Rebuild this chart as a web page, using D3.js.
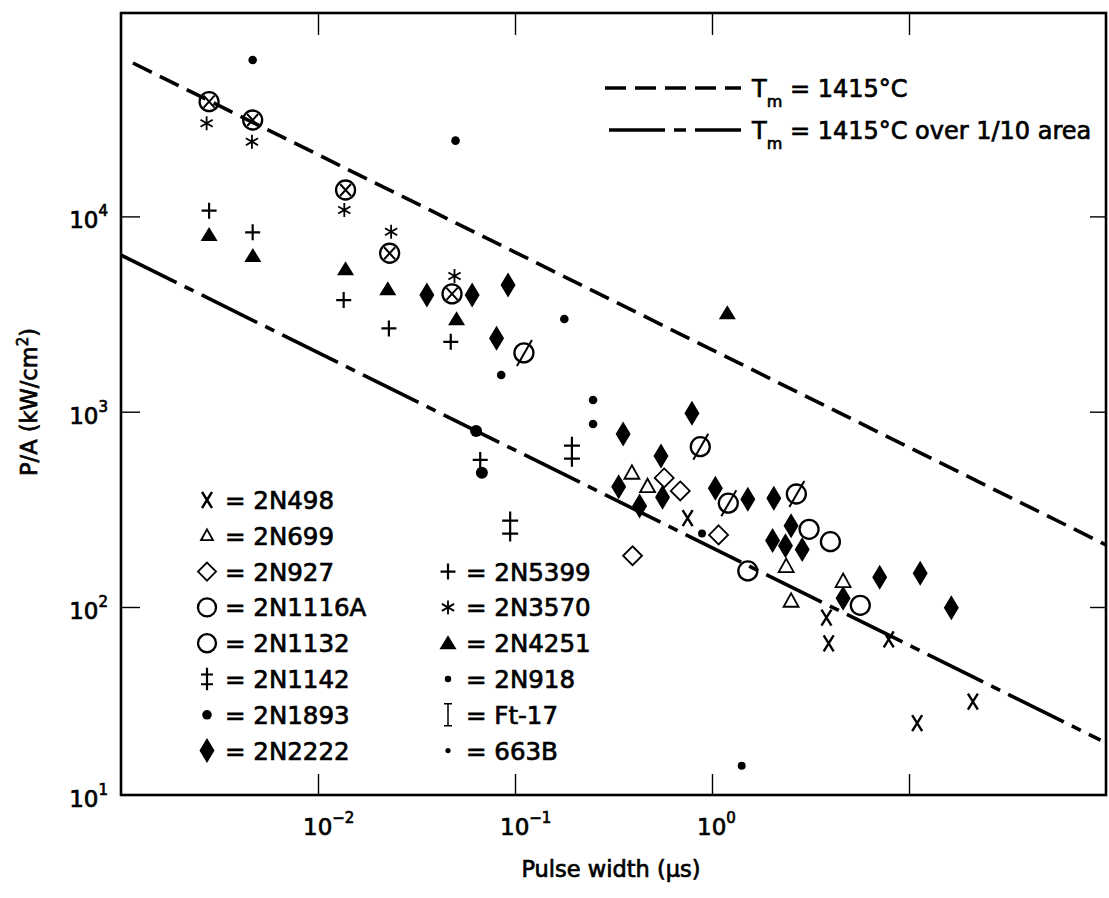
<!DOCTYPE html>
<html>
<head>
<meta charset="utf-8">
<script src="https://cdnjs.cloudflare.com/ajax/libs/d3/7.8.5/d3.min.js"></script>
<style>
  body { margin: 0; background: #fff; }
  svg { display: block; }
  text { font-family: "DejaVu Sans", sans-serif; fill: #000; stroke: #000; stroke-width: 0.7px; }
</style>
</head>
<body>
<svg id="chart" width="1109" height="898"></svg>
<script>
// ---------------- data (pulse width in µs, P/A in kW/cm²) ----------------
const d2N498   = [[0.752,285],[3.81,87.7],[3.91,64.1],[7.89,67.3],[21.1,31.4],[11.0,24.1]];
const d2N699   = [[0.392,484],[0.471,413],[2.38,161],[2.52,107],[4.63,135]];
const d2N927   = [[0.572,458],[0.690,393],[1.08,234],[0.395,183]];
const d2N1116A = [[1.52,153],[3.11,250],[3.99,216],[5.66,102]];
const d2N1132  = [[0.111,2000],[0.872,662],[1.21,340],[2.68,379]];
const d2N1142  = [[0.1945,624],[0.0945,258]];
const d2N1893  = [[0.0635,796],[0.0679,487]];
const d2N2222  = [[0.0357,3960],[0.0606,3960],[0.0922,4450],[0.0806,2380],[0.791,981],[0.354,769],
                  [0.551,593],[0.336,413],[0.561,365],[0.429,329],[1.04,405],[1.52,356],[2.06,360],
                  [2.52,261],[2.03,219],[2.36,206],[2.87,197],[4.63,111],[7.10,142],[11.4,149],[16.4,99]];
const d2N5399  = [[0.0028,10700],[0.00466,8290],[0.0135,3730],[0.0229,2670],[0.0472,2280],[0.0666,566]];
const d2N3570  = [[0.00272,29970],[0.00462,24130],[0.0136,10790],[0.0235,8350],[0.0493,4950]];
const d2N4251  = [[0.0028,8030],[0.00467,6270],[0.0138,5360],[0.0226,4230],[0.0505,2975],[1.196,3190]];
const d2N918   = [[0.00466,63200],[0.0499,24420],[0.178,2982],[0.0851,1541],[0.249,1148],[0.249,865]];
const dFt17    = [[0.0028,38660],[0.00466,31160],[0.0138,13650],[0.0231,6475],[0.0479,4010]];
const d663B    = [[0.890,238],[1.415,14.3]];

// reference lines (two end points)
const tmLineT    = [0.00115, 100];
const tmLinePA   = [61000, 208];
const tm10LineT  = [0.001, 93.8];
const tm10LinePA = [6340, 19.6];

// ticks
const xTickValues = [1e-2, 1e-1, 1e0, 1e1];
const xLabelValues = [1e-2, 1e-1, 1e0];
const xLabelExps = ["\u22122", "\u22121", "0"];
const yTickValues = [1e2, 1e3, 1e4];
const yLabelValues = [1e4, 1e3, 1e2, 1e1];
const yLabelExps = ["4", "3", "2", "1"];

// legends
const legendCol1 = ["2N498","2N699","2N927","2N1116A","2N1132","2N1142","2N1893","2N2222"];
const legendCol1Sym = ["x","triO","diaO","cirO","cirO","ddag","dotL","diaF"];
const legendCol2 = ["2N5399","2N3570","2N4251","2N918","Ft-17","663B"];
const legendCol2Sym = ["plus","ast","triF","dotM","ibeam","dotS"];

// ---------------- setup ----------------
const svg = d3.select("#chart");
const x = d3.scaleLog().domain([1e-3, 1e2]).range([121, 1106]);
const y = d3.scaleLog().domain([10, 100, 1.1e5]).range([795, 607, 13]);
const X0 = x.range()[0], X1 = x.range()[1];
const Y0 = y(10), Y1 = y(1.1e5);

// ---------------- axes (inward ticks) ----------------
function styleAxis(g) {
  g.select(".domain").remove();
  g.selectAll(".tick line").attr("stroke", "#000").attr("stroke-width", 1.4);
  g.selectAll(".tick text").remove();
}
svg.append("g").attr("transform", `translate(0,${Y0})`)
  .call(d3.axisBottom(x).tickValues(xTickValues).tickSize(-21).tickFormat("")).call(styleAxis);
svg.append("g").attr("transform", `translate(0,${Y1})`)
  .call(d3.axisTop(x).tickValues(xTickValues).tickSize(-22).tickFormat("")).call(styleAxis);
svg.append("g").attr("transform", `translate(${X0},0)`)
  .call(d3.axisLeft(y).tickValues(yTickValues).tickSize(-19).tickFormat("")).call(styleAxis);
svg.append("g").attr("transform", `translate(${X1},0)`)
  .call(d3.axisRight(y).tickValues(yTickValues).tickSize(-16).tickFormat("")).call(styleAxis);

// frame
svg.append("rect").attr("x", X0).attr("y", Y1).attr("width", X1 - X0).attr("height", Y0 - Y1)
  .attr("fill", "none").attr("stroke", "#000").attr("stroke-width", 2.6);

// tick labels
xLabelValues.forEach((v, i) => {
  const t = svg.append("text").attr("x", x(v) - 15).attr("y", 835).style("font-size", "23px");
  t.append("tspan").text("10");
  t.append("tspan").attr("dy", -12).style("font-size", "15px").text(xLabelExps[i]);
});
yLabelValues.forEach((v, i) => {
  const t = svg.append("text").attr("x", 108).attr("y", y(v) + 12).attr("text-anchor", "end").style("font-size", "23px");
  t.append("tspan").text("10");
  t.append("tspan").attr("dy", -12).style("font-size", "15px").text(yLabelExps[i]);
});

// axis titles
svg.append("text").attr("x", 611).attr("y", 877).attr("text-anchor", "middle")
  .style("font-size", "22.5px").text("Pulse width (\u03BCs)");
const yt = svg.append("text").attr("transform", "translate(37,402) rotate(-90)")
  .attr("text-anchor", "middle").style("font-size", "22.5px");
yt.append("tspan").text("P/A (kW/cm");
yt.append("tspan").attr("dy", -9).style("font-size", "15px").text("2");
yt.append("tspan").attr("dy", 9).text(")");

// ---------------- reference lines ----------------
const line = d3.line().x(d => x(d[0])).y(d => y(d[1]));
svg.append("path").datum(tmLineT.map((t, i) => [t, tmLinePA[i]])).attr("d", line)
  .attr("fill", "none").attr("stroke", "#000").attr("stroke-width", 3.6).attr("stroke-dasharray", "21,9");
svg.append("path").datum(tm10LineT.map((t, i) => [t, tm10LinePA[i]])).attr("d", line)
  .attr("fill", "none").attr("stroke", "#000").attr("stroke-width", 3.6).attr("stroke-dasharray", "62,9,10,9");

// ---------------- markers ----------------
function marker(g, type, cx, cy, s) {
  s = s || 1;
  const m = g.append("g").attr("transform", `translate(${cx},${cy}) scale(${s})`);
  const st = (sel, w) => sel.attr("fill", "none").attr("stroke", "#000").attr("stroke-width", w / s);
  switch (type) {
    case "x": st(m.append("path").attr("d", "M-5,-8L5,8M5,-8L-5,8"), 2.4); break;
    case "triO": st(m.append("path").attr("d", "M0,-8L7.5,5.5L-7.5,5.5Z"), 1.8).attr("fill", "#fff"); break;
    case "diaO": st(m.append("path").attr("d", "M0,-9.5L9.5,0L0,9.5L-9.5,0Z"), 1.8).attr("fill", "#fff"); break;
    case "cirO": st(m.append("circle").attr("r", 9.5), 2.3); break;
    case "cirSlash":
      st(m.append("circle").attr("r", 9.5), 2.3);
      st(m.append("path").attr("d", "M-7,13L8,-13"), 2); break;
    case "cirX":
      st(m.append("circle").attr("r", 9.5), 2.3);
      st(m.append("path").attr("d", "M-5.5,-6L5.5,6M5.5,-6L-5.5,6"), 2); break;
    case "ddag": st(m.append("path").attr("d", "M0,-15V15M-8,-6H8M-8,7H8"), 2.2); break;
    case "plus": st(m.append("path").attr("d", "M-7.5,0H7.5M0,-8V8"), 2.2); break;
    case "ast": st(m.append("path").attr("d", "M0,-7V7M-6.1,-3.5L6.1,3.5M6.1,-3.5L-6.1,3.5"), 1.8); break;
    case "ibeam": st(m.append("path").attr("d", "M0,-11V11M-4,-11H4M-4,11H4"), 1.5); break;
    case "diaF": m.append("path").attr("d", "M0,-12.5L7.5,0L0,12.5L-7.5,0Z").attr("fill", "#000"); break;
    case "triF": m.append("path").attr("d", "M0,-8L8.5,6L-8.5,6Z").attr("fill", "#000"); break;
    case "dotL": m.append("circle").attr("r", 6).attr("fill", "#000"); break;
    case "dotM": m.append("circle").attr("r", 4.3).attr("fill", "#000"); break;
    case "dotS": m.append("circle").attr("r", 4).attr("fill", "#000"); break;
  }
}

const series = [
  [d2N2222, "diaF"], [d2N699, "triO"], [d2N927, "diaO"], [d2N1116A, "cirO"], [d2N1132, "cirSlash"],
  [d2N1142, "ddag"], [d2N1893, "dotL"], [d2N498, "x"], [d2N5399, "plus"], [d2N3570, "ast"],
  [d2N4251, "triF"], [d2N918, "dotM"], [dFt17, "cirX"], [d663B, "dotS"]
];
const gPts = svg.append("g");
series.forEach(([data, type]) => data.forEach(d => marker(gPts, type, x(d[0]), y(d[1]))));

// ---------------- legend: symbols ----------------
const gLeg = svg.append("g");
const rowY = i => 500 + i * 35.8;
const legScale = { triO: 0.8, ddag: 0.75, dotL: 0.8, dotM: 0.75, dotS: 0.65, cirO: 0.95, diaO: 0.95 };
legendCol1.forEach((name, i) => {
  marker(gLeg, legendCol1Sym[i], 207, rowY(i), legScale[legendCol1Sym[i]] || 1);
  gLeg.append("text").attr("x", 225).attr("y", rowY(i) + 9).style("font-size", "24.5px").text("= " + name);
});
legendCol2.forEach((name, i) => {
  marker(gLeg, legendCol2Sym[i], 448, rowY(i + 2), legScale[legendCol2Sym[i]] || 1);
  gLeg.append("text").attr("x", 466).attr("y", rowY(i + 2) + 9).style("font-size", "24.5px").text("= " + name);
});

// ---------------- legend: lines ----------------
const lineLegend = [
  { y: 88, x0: 605, dash: "21,9", label: " = 1415\u00B0C" },
  { y: 130, x0: 609, dash: "56,9,12,9", label: " = 1415\u00B0C over 1/10 area" }
];
lineLegend.forEach(L => {
  svg.append("line").attr("x1", L.x0).attr("x2", 741).attr("y1", L.y).attr("y2", L.y)
    .attr("stroke", "#000").attr("stroke-width", 3.6).attr("stroke-dasharray", L.dash);
  const t = svg.append("text").attr("x", 752).attr("y", L.y + 9).style("font-size", "24px");
  t.append("tspan").text("T");
  t.append("tspan").attr("dy", 10).style("font-size", "16px").text("m");
  t.append("tspan").attr("dy", -10).text(L.label);
});
</script>
</body>
</html>
